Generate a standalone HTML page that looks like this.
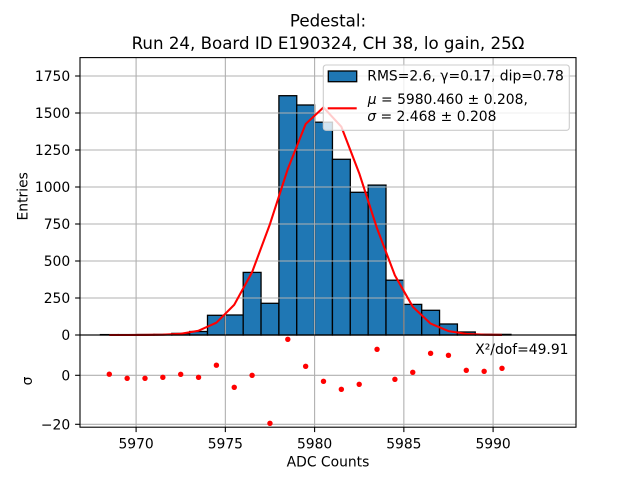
<!DOCTYPE html>
<html><head><meta charset="utf-8"><style>
html,body{margin:0;padding:0;background:#fff;}
svg{display:block;}
text{font-family:"DejaVu Sans","Liberation Sans",sans-serif;fill:#000;}
</style></head><body>
<svg width="640" height="480" viewBox="0 0 640 480" xmlns="http://www.w3.org/2000/svg">
<rect x="0" y="0" width="640" height="480" fill="#fff"/>
<!-- bars -->
<g fill="#1f77b4" stroke="#000" stroke-width="1.3">
<rect x="100.4" y="334.6" width="17.85" height="0.4"/>
<rect x="118.25" y="334.6" width="17.85" height="0.4"/>
<rect x="136.1" y="334.5" width="17.85" height="0.5"/>
<rect x="153.95" y="334.4" width="17.85" height="0.6"/>
<rect x="171.8" y="333.4" width="17.85" height="1.6"/>
<rect x="189.65" y="331.5" width="17.85" height="3.5"/>
<rect x="207.5" y="315.3" width="17.85" height="19.7"/>
<rect x="225.35" y="315.0" width="17.85" height="20.0"/>
<rect x="243.2" y="272.4" width="17.85" height="62.6"/>
<rect x="261.05" y="303.3" width="17.85" height="31.7"/>
<rect x="278.9" y="95.7" width="17.85" height="239.3"/>
<rect x="296.75" y="105.0" width="17.85" height="230.0"/>
<rect x="314.6" y="122.2" width="17.85" height="212.8"/>
<rect x="332.45" y="159.3" width="17.85" height="175.7"/>
<rect x="350.3" y="192.3" width="17.85" height="142.7"/>
<rect x="368.15" y="185.1" width="17.85" height="149.9"/>
<rect x="386.0" y="280.2" width="17.85" height="54.8"/>
<rect x="403.85" y="304.4" width="17.85" height="30.6"/>
<rect x="421.7" y="310.3" width="17.85" height="24.7"/>
<rect x="439.55" y="324.0" width="17.85" height="11.0"/>
<rect x="457.4" y="332.0" width="17.85" height="3.0"/>
<rect x="475.25" y="334.3" width="17.85" height="0.7"/>
<rect x="493.1" y="334.4" width="17.85" height="0.6"/>
</g>
<!-- grid -->
<g stroke="#b0b0b0" stroke-width="1.1" fill="none">
<line x1="136.1" y1="57.6" x2="136.1" y2="427.2"/>
<line x1="225.35" y1="57.6" x2="225.35" y2="427.2"/>
<line x1="314.6" y1="57.6" x2="314.6" y2="427.2"/>
<line x1="403.85" y1="57.6" x2="403.85" y2="427.2"/>
<line x1="493.1" y1="57.6" x2="493.1" y2="427.2"/>
<line x1="80" y1="76" x2="576" y2="76"/>
<line x1="80" y1="113" x2="576" y2="113"/>
<line x1="80" y1="150" x2="576" y2="150"/>
<line x1="80" y1="187" x2="576" y2="187"/>
<line x1="80" y1="224" x2="576" y2="224"/>
<line x1="80" y1="261" x2="576" y2="261"/>
<line x1="80" y1="298" x2="576" y2="298"/>
<line x1="80" y1="375.3" x2="576" y2="375.3"/>
<line x1="80" y1="424.3" x2="576" y2="424.3"/>
</g>
<!-- fit curve -->
<polyline fill="none" stroke="#ff0000" stroke-width="2.08" stroke-linejoin="round" points="109.3,335 127.15,335 145.0,334.93 162.85,334.69 180.7,333.75 198.55,330.73 216.4,322.68 234.25,304.77 252.1,272.15 269.95,224.1 287.8,168.95 305.65,124.0 323.5,107.4 341.35,126.7 359.2,173.2 377.05,228.4 394.9,275.4 412.75,306.7 430.6,323.6 448.45,331.1 466.3,333.9 484.15,334.7 502.0,334.9"/>
<!-- residual dots -->
<g fill="#ff0000">
<circle cx="109.3" cy="374.2" r="2.7"/>
<circle cx="127.15" cy="378.3" r="2.7"/>
<circle cx="145.0" cy="378.3" r="2.7"/>
<circle cx="162.85" cy="377.3" r="2.7"/>
<circle cx="180.7" cy="374.3" r="2.7"/>
<circle cx="198.55" cy="377.3" r="2.7"/>
<circle cx="216.4" cy="365.2" r="2.7"/>
<circle cx="234.25" cy="387.3" r="2.7"/>
<circle cx="252.1" cy="375.3" r="2.7"/>
<circle cx="269.95" cy="423.3" r="2.7"/>
<circle cx="287.8" cy="339.3" r="2.7"/>
<circle cx="305.65" cy="366.3" r="2.7"/>
<circle cx="323.5" cy="381.3" r="2.7"/>
<circle cx="341.35" cy="389.3" r="2.7"/>
<circle cx="359.2" cy="384.3" r="2.7"/>
<circle cx="377.05" cy="349.3" r="2.7"/>
<circle cx="394.9" cy="379.3" r="2.7"/>
<circle cx="412.75" cy="372.3" r="2.7"/>
<circle cx="430.6" cy="353.3" r="2.7"/>
<circle cx="448.45" cy="355.3" r="2.7"/>
<circle cx="466.3" cy="370.3" r="2.7"/>
<circle cx="484.15" cy="371.3" r="2.7"/>
<circle cx="502.0" cy="368.3" r="2.7"/>
</g>
<!-- spines -->
<g stroke="#000" stroke-width="1.1" fill="none">
<rect x="80" y="57.6" width="496" height="277.4"/>
<rect x="80" y="335" width="496" height="92.2"/>
</g>
<!-- ticks -->
<g stroke="#000" stroke-width="1.1">
<line x1="75.1" y1="76" x2="80" y2="76"/>
<line x1="75.1" y1="113" x2="80" y2="113"/>
<line x1="75.1" y1="150" x2="80" y2="150"/>
<line x1="75.1" y1="187" x2="80" y2="187"/>
<line x1="75.1" y1="224" x2="80" y2="224"/>
<line x1="75.1" y1="261" x2="80" y2="261"/>
<line x1="75.1" y1="298" x2="80" y2="298"/>
<line x1="75.1" y1="335" x2="80" y2="335"/>
<line x1="75.1" y1="375.3" x2="80" y2="375.3"/>
<line x1="75.1" y1="424.3" x2="80" y2="424.3"/>
<line x1="136.1" y1="427.2" x2="136.1" y2="432.1"/>
<line x1="225.35" y1="427.2" x2="225.35" y2="432.1"/>
<line x1="314.6" y1="427.2" x2="314.6" y2="432.1"/>
<line x1="403.85" y1="427.2" x2="403.85" y2="432.1"/>
<line x1="493.1" y1="427.2" x2="493.1" y2="432.1"/>
</g>
<!-- tick labels -->
<g font-size="13.89px" text-anchor="end">
<text x="70.2" y="81">1750</text>
<text x="70.2" y="118">1500</text>
<text x="70.2" y="155">1250</text>
<text x="70.2" y="192">1000</text>
<text x="70.2" y="229">750</text>
<text x="70.2" y="266">500</text>
<text x="70.2" y="303">250</text>
<text x="70.2" y="340">0</text>
<text x="70.2" y="380.3">0</text>
<text x="70.2" y="429.3">−20</text>
</g>
<g font-size="13.89px" text-anchor="middle">
<text x="136.1" y="448.3">5970</text>
<text x="225.35" y="448.3">5975</text>
<text x="314.6" y="448.3">5980</text>
<text x="403.85" y="448.3">5985</text>
<text x="493.1" y="448.3">5990</text>
<text x="328" y="466.5">ADC Counts</text>
<text transform="translate(27.5,196.3) rotate(-90)">Entries</text>
<text transform="translate(32,381) rotate(-90)">σ</text>
</g>
<!-- title -->
<g font-size="16.67px" text-anchor="middle">
<text x="328" y="26.7">Pedestal:</text>
<text x="328" y="49">Run 24, Board ID E190324, CH 38, lo gain, 25Ω</text>
</g>
<!-- chi2 -->
<text x="568.5" y="354" font-size="13.89px" text-anchor="end">X²/dof=49.91</text>
<!-- legend -->
<rect x="323.3" y="65" width="246" height="65.3" rx="2.8" ry="2.8" fill="#ffffff" fill-opacity="0.8" stroke="#cccccc" stroke-width="1.1"/>
<rect x="328.3" y="71" width="28.4" height="10.7" fill="#1f77b4" stroke="#000" stroke-width="1.3"/>
<line x1="327.7" y1="108.3" x2="356.7" y2="108.3" stroke="#ff0000" stroke-width="2.08"/>
<g font-size="13.89px">
<text x="367.3" y="80.7">RMS=2.6, γ=0.17, dip=0.78</text>
<text x="367.8" y="104"><tspan font-style="italic">μ</tspan> = 5980.460 ± 0.208,</text>
<text x="367.3" y="121"><tspan font-style="italic">σ</tspan> = 2.468 ± 0.208</text>
</g>
</svg>
</body></html>
